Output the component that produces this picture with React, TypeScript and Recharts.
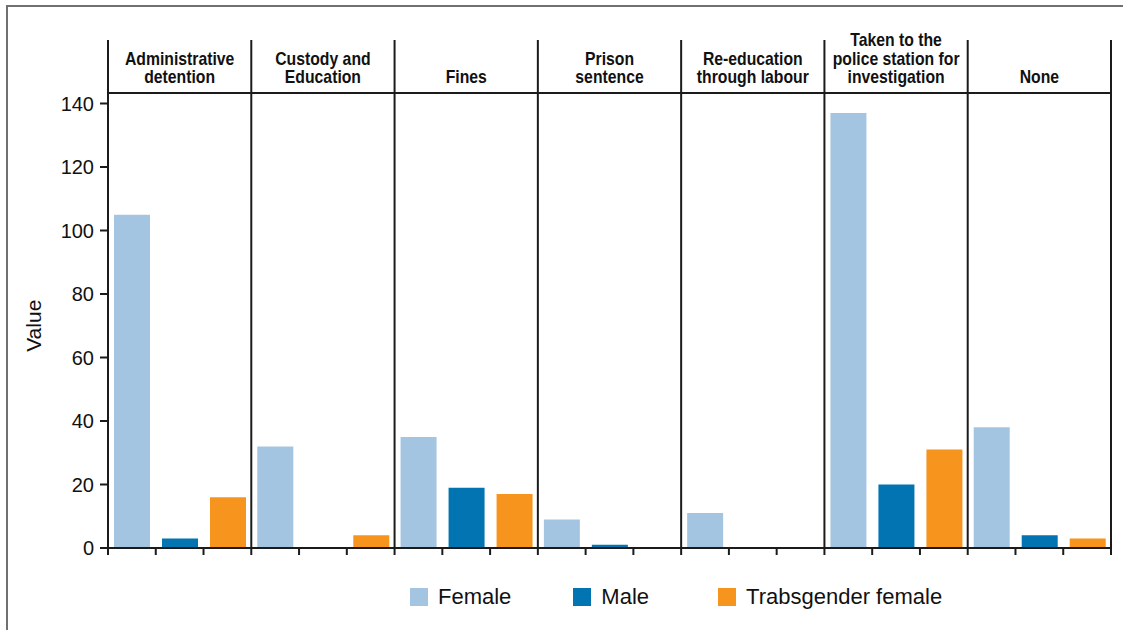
import { BarChart, Bar, XAxis, YAxis, ReferenceLine, ReferenceArea } from 'recharts';

// punishment categories shown as facet panels
const categories = [
    'Administrative detention',
    'Custody and Education',
    'Fines',
    'Prison sentence',
    'Re-education through labour',
    'Taken to the police station for investigation',
    'None',
];
const headerLines = [
    ['Administrative', 'detention'],
    ['Custody and', 'Education'],
    ['Fines'],
    ['Prison', 'sentence'],
    ['Re-education', 'through labour'],
    ['Taken to the', 'police station for', 'investigation'],
    ['None'],
];

const female = [105, 32, 35, 9, 11, 137, 38];
const male = [3, 0, 19, 1, 0, 20, 4];
const trans = [16, 4, 17, 0, 0, 31, 3];

const seriesKeys = ['female', 'male', 'trans'];
const seriesNames = ['Female', 'Male', 'Trabsgender female'];
const seriesColors = ['#a3c5e2', '#0174b1', '#f7941e'];

const yTicks = [0, 20, 40, 60, 80, 100, 120, 140];

const data = categories.map((c, i) => ({
    category: c,
    female: female[i],
    male: male[i],
    trans: trans[i],
}));

const INK = '#1b1b1b';
const Y_MAX = 160; // room above 140 for the panel headers
const HEADER_BASE = 143.3;

const sans = "'Liberation Sans', Arial, Helvetica, sans-serif";

// tick marks at the panel edge and between the bars of each panel
function SlotTicks(props: any) {
    const { x, y, payload, index } = props;
    const half = payload?.offset || props.width / categories.length / 2;
    const left = x - half;
    const n = seriesKeys.length;
    const xs = Array.from({ length: n }, (_, j) => left + (2 * half * j) / n);
    if (index === categories.length - 1) xs.push(left + 2 * half);
    return (
        <g>
            {xs.map((xx, j) => (
                <line key={j} x1={xx} x2={xx} y1={y} y2={y + 7} stroke={INK} strokeWidth={2} />
            ))}
        </g>
    );
}

// condensed bold header text, squeezed horizontally since no narrow font is around
function headerLabel(lines: string[]) {
    return (props: any) => {
        const vb = props.viewBox;
        if (!vb) return null;
        const cx = vb.x + vb.width / 2;
        const bottom = vb.y + vb.height - 10;
        return (
            <g transform={`translate(${cx} 0) scale(0.83 1)`}>
                <text textAnchor="middle" fontFamily={sans} fontWeight="bold" fontSize={19} fill="#111">
                    {lines.map((l, k) => (
                        <tspan key={k} x={0} y={bottom - (lines.length - 1 - k) * 18.3}>{l}</tspan>
                    ))}
                </text>
            </g>
        );
    };
}

function ValueLabel(props: any) {
    const vb = props.viewBox || { x: 18, y: 40, width: 90, height: 508 };
    const mid = (yTicks[0] + yTicks[yTicks.length - 1]) / 2;
    const cx = vb.x + 15;
    const cy = vb.y + vb.height * (1 - mid / Y_MAX);
    return (
        <text
            x={cx}
            y={cy}
            transform={`rotate(-90 ${cx} ${cy})`}
            textAnchor="middle"
            dominantBaseline="central"
            fontFamily={sans}
            fontSize={21}
            fill="#111"
        >
            Value
        </text>
    );
}

const legendGaps = [62, 69];

export default function App() {
    return (
        <div style={{ position: 'relative', width: 1123, height: 630, overflow: 'hidden', background: '#fff' }}>
            <style>{'body{margin:0}'}</style>
            <div
                style={{
                    position: 'absolute', left: 6, top: 5, width: 1140, height: 650,
                    border: '2px solid #707070',
                }}
            />
            <div style={{ position: 'absolute', left: 0, top: 0 }}>
                <BarChart
                    width={1123}
                    height={630}
                    data={data}
                    margin={{ top: 40, right: 12, left: 18, bottom: 52 }}
                    barSize={36}
                    barGap={12}
                >
                    <XAxis
                        dataKey="category"
                        height={30}
                        interval={0}
                        tickLine={false}
                        tickSize={0}
                        tickMargin={0}
                        axisLine={{ stroke: INK, strokeWidth: 2 }}
                        tick={SlotTicks}
                    />
                    <YAxis
                        width={90}
                        domain={[0, Y_MAX]}
                        ticks={yTicks}
                        allowDataOverflow
                        axisLine={false}
                        tickSize={8}
                        tickMargin={6}
                        tickLine={{ stroke: INK, strokeWidth: 2 }}
                        tick={{ fill: '#111', fontSize: 20, fontFamily: sans }}
                        label={{ content: ValueLabel }}
                    />
                    {categories.map((c, i) => (
                        <ReferenceArea
                            key={'h' + c}
                            x1={c}
                            x2={c}
                            y1={HEADER_BASE}
                            y2={Y_MAX}
                            fill="none"
                            fillOpacity={0}
                            stroke="none"
                            label={headerLabel(headerLines[i])}
                        />
                    ))}
                    {categories.map((c) => (
                        <ReferenceLine key={'v' + c} x={c} position="start" stroke={INK} strokeWidth={2} />
                    ))}
                    <ReferenceLine
                        x={categories[categories.length - 1]}
                        position="end"
                        stroke={INK}
                        strokeWidth={2}
                    />
                    <ReferenceLine y={HEADER_BASE} stroke={INK} strokeWidth={2} />
                    {seriesKeys.map((k, i) => (
                        <Bar
                            key={k}
                            dataKey={k}
                            name={seriesNames[i]}
                            fill={seriesColors[i]}
                            isAnimationActive={false}
                        />
                    ))}
                </BarChart>
            </div>
            <div
                style={{
                    position: 'absolute', left: 410, top: 584, display: 'flex', alignItems: 'center',
                    fontFamily: sans, fontSize: 22, color: '#111', whiteSpace: 'nowrap',
                }}
            >
                {seriesNames.map((n, i) => (
                    <div key={n} style={{ display: 'flex', alignItems: 'center', marginRight: legendGaps[i] || 0 }}>
                        <span style={{ width: 18, height: 18, background: seriesColors[i], display: 'inline-block', marginRight: 10 }} />
                        <span>{n}</span>
                    </div>
                ))}
            </div>
        </div>
    );
}
